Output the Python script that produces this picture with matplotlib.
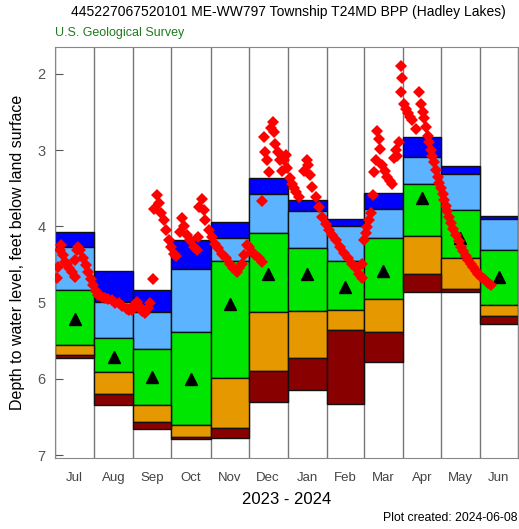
import matplotlib
matplotlib.use("Agg")
from matplotlib import pyplot as plt
import numpy as np

plt.rcParams["font.family"] = ["Liberation Sans", "DejaVu Sans"]

## monthly percentile classes, depth in feet below land surface
months = ["Jul", "Aug", "Sep", "Oct", "Nov", "Dec", "Jan", "Feb", "Mar", "Apr", "May", "Jun"]
month_days = [31, 31, 30, 31, 30, 31, 31, 29, 31, 30, 31, 30]

lev_max = [4.08, 4.59, 4.83, 4.18, 3.94, 3.37, 3.66, 3.91, 3.56, 2.83, 3.21, 3.86]   # highest
lev_p90 = [4.27, 4.99, 5.12, 4.56, 4.16, 3.58, 3.80, 4.00, 3.77, 3.09, 3.32, 3.91]
lev_p75 = [4.83, 5.46, 5.61, 5.38, 4.46, 4.09, 4.29, 4.45, 4.15, 3.45, 3.78, 4.31]
lev_p25 = [5.56, 5.91, 6.35, 6.60, 5.99, 5.13, 5.11, 5.10, 4.95, 4.13, 4.42, 5.03]
lev_p10 = [5.69, 6.20, 6.56, 6.76, 6.65, 5.90, 5.73, 5.36, 5.39, 4.62, 4.82, 5.17]
lev_min = [5.73, 6.35, 6.66, 6.79, 6.78, 6.31, 6.15, 6.33, 5.78, 4.86, 4.86, 5.28]  # lowest
median = [5.21, 5.71, 5.97, 6.00, 5.02, 4.62, 4.63, 4.79, 4.58, 3.63, 4.16, 4.67]

## observed levels 2023-2024, day counted from 1 July 2023
obs_day = [1.3, 2.6, 4.0, 5.1, 6.6, 7.9, 9.3, 11.1, 13.2, 15.8, 15.8, 17.4, 18.5, 19.8, 22.4,
           24.2, 26.4, 28.5, 30.3, 32.5, 34.3, 37.2, 39.6, 42.2, 45.2, 47.5, 50.2, 52.9, 56.8,
           58.6, 60.8, 62.6, 64.7, 66.6, 68.9, 71.3, 73.7, 75.3, 77.4,
           77.9, 80.6, 81.9, 83.6, 85.8, 87.6, 89.8, 92.0, 93.7, 95.5,
           99.0, 100.6, 102.2, 104.6, 107.0, 109.6, 112.3, 112.9,
           113.6, 116.2, 117.5, 118.9, 121.5, 124.0, 126.8, 129.2, 132.1, 135.5, 138.7, 141.0,
           144.0, 145.8, 147.9, 149.8, 151.9, 153.7, 155.9, 158.5, 160.9, 163.8, 163.8,
           165.1, 166.4, 167.2, 169.0, 170.4, 172.2, 173.1, 174.3, 175.9, 177.5, 179.6, 180.9,
           182.3, 183.8, 185.4, 187.0, 188.6, 190.2, 192.8,
           196.7, 199.4, 200.2, 201.3, 203.4, 206.0, 208.4, 211.3, 213.9, 216.3, 218.7, 221.9,
           225.0, 228.2, 231.4, 235.1, 237.7, 240.1, 243.0, 243.0,
           244.3, 245.6, 247.0, 248.4, 249.6, 251.0, 252.2, 253.6, 254.9, 256.2, 257.0, 258.9,
           260.7, 262.8, 264.7, 266.8, 267.8, 269.4, 270.2, 272.0,
           273.4, 273.9, 274.7, 276.0, 277.4, 278.7, 280.5, 282.6, 285.3, 287.9, 289.2, 290.6,
           291.6, 293.2, 294.8, 296.0, 297.1, 298.3, 299.5, 301.0, 302.5, 303.8, 305.1, 306.4,
           307.7, 309.0, 310.2, 311.6, 313.0, 315.0, 317.0, 319.0, 320.9, 322.9, 324.9, 326.8,
           328.8, 330.8, 332.8, 334.8, 336.8, 338.8, 340.7, 342.7, 344.7]
obs_depth = [4.68, 4.53, 4.31, 4.25, 4.38, 4.47, 4.49, 4.55, 4.60, 4.66, 4.44, 4.31, 4.27, 4.31, 4.42,
             4.51, 4.60, 4.69, 4.77, 4.85, 4.90, 4.93, 4.94, 4.95, 4.97, 5.00, 5.01, 5.05, 5.08,
             5.10, 5.10, 5.03, 4.99, 5.05, 5.11, 5.14, 5.07, 5.01, 4.69,
             3.77, 3.59, 3.70, 3.82, 3.92, 4.05, 4.18, 4.27, 4.36, 4.39,
             4.07, 3.89, 4.00, 4.12, 4.18, 4.27, 4.31, 4.14,
             3.75, 3.64, 3.79, 3.92, 4.05, 4.14, 4.23, 4.29, 4.36, 4.42, 4.49, 4.55,
             4.60, 4.55, 4.49, 4.37, 4.25, 4.27, 4.34, 4.38, 4.42, 4.47, 3.67,
             2.83, 3.03, 3.13, 3.29, 2.71, 2.63, 2.77, 2.92, 3.03, 3.13, 3.27, 3.13,
             3.07, 3.24, 3.37, 3.44, 3.50, 3.55, 3.62,
             3.27, 3.13, 3.20, 3.33, 3.48, 3.62, 3.75, 3.88, 3.97, 4.05, 4.12, 4.18,
             4.27, 4.35, 4.42, 4.49, 4.55, 4.62, 4.68, 4.50,
             4.18, 4.09, 4.01, 3.92, 3.83, 3.59, 3.29, 3.13, 2.75, 2.85, 2.98, 3.20,
             3.28, 3.35, 3.40, 3.44, 3.10, 3.00, 3.08, 2.89,
             2.24, 1.90, 2.06, 2.39, 2.46, 2.52, 2.57, 2.61, 2.72, 2.24, 2.39, 2.50,
             2.58, 2.70, 2.81, 2.90, 3.00, 3.08, 3.16, 3.26, 3.35, 3.43, 3.50, 3.58,
             3.66, 3.73, 3.80, 3.88, 3.96, 4.04, 4.12, 4.19, 4.27, 4.33, 4.39, 4.44,
             4.49, 4.53, 4.58, 4.62, 4.66, 4.69, 4.72, 4.75, 4.77]

month_start = np.concatenate([[0], np.cumsum(month_days)[:-1]])
month_mid = month_start + np.array(month_days) / 2.0

fig = plt.figure(figsize=(5.19, 5.29), dpi=100)
ax = fig.add_axes([0.106, 0.134, 0.892, 0.777])

# percentile classes, top to bottom
layers = [(lev_max, lev_p90, "#0000FF"),
          (lev_p90, lev_p75, "#5CB3FF"),
          (lev_p75, lev_p25, "#00E600"),
          (lev_p25, lev_p10, "#E69800"),
          (lev_p10, lev_min, "#880000")]
for top, bot, col in layers:
    ax.bar(month_start, np.array(bot) - np.array(top), width=month_days, bottom=top,
           align="edge", color=col, edgecolor="#111111", linewidth=1.0, zorder=2)

for s in list(month_start) + [366]:
    ax.axvline(s, color="#777777", linewidth=1.0, zorder=1)

ax.plot(month_mid, median, linestyle="none", marker="^", color="black", markersize=8, zorder=3)
ax.plot(obs_day, obs_depth, linestyle="none", marker="D", color="#FF0000", markersize=6,
        markeredgewidth=0, zorder=4)

ax.set_xlim(0, 366)
ax.set_ylim(7.04, 1.65)
ax.set_yticks([2, 3, 4, 5, 6, 7])
ax.set_xticks(month_mid)
ax.set_xticklabels(months, color="#444444", fontsize=9.5)
ax.tick_params(axis="x", length=0, pad=10)
ax.tick_params(axis="y", direction="in", length=6, color="#555555", labelsize=10.5,
               labelcolor="#555555", pad=7)
for sp in ax.spines.values():
    sp.set_color("#888888")

ax.set_xlabel("2023 - 2024", fontsize=12, labelpad=6)
ax.set_ylabel("Depth to water level, feet below land surface", fontsize=11.5, labelpad=9)

fig.text(0.555, 0.977, "445227067520101 ME-WW797 Township T24MD BPP (Hadley Lakes)",
         ha="center", va="center", fontsize=10)
fig.text(0.106, 0.937, "U.S. Geological Survey", color="#1E7B1E", fontsize=9, va="center")
fig.text(0.997, 0.02, "Plot created: 2024-06-08", ha="right", va="center", fontsize=8.8)

plt.savefig("out.png", dpi=100)
